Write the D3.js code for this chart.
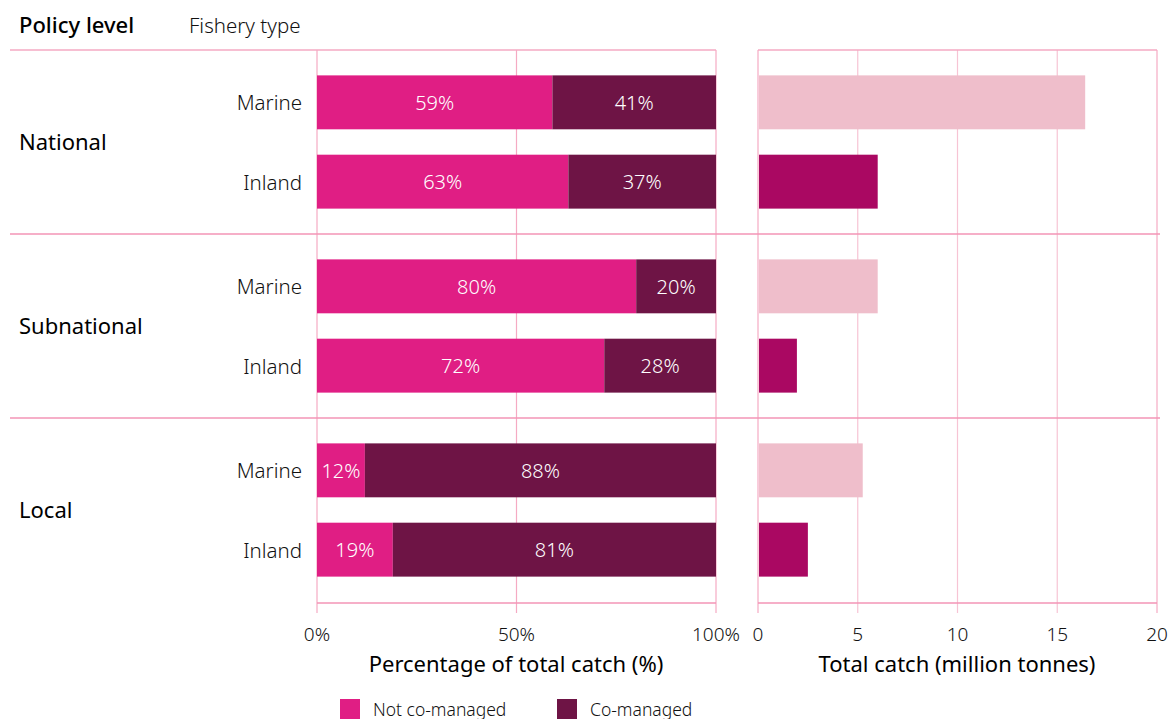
<!DOCTYPE html>
<html>
<head>
<meta charset="utf-8">
<script src="https://cdn.jsdelivr.net/npm/d3@7"></script>
<style>
  body { margin: 0; background: #fff; }
  svg { font-family: "Noto Sans", "Open Sans", sans-serif; }
</style>
</head>
<body>
<svg id="chart" width="1173" height="719"></svg>
<script>
// data
const levels = ["National", "Subnational", "Local"];
const fisheryTypes = ["Marine", "Inland"];
const notCoManaged = [59, 63, 80, 72, 12, 19];   // % of total catch, in level/type order
const coManaged = [41, 37, 20, 28, 88, 81];
const totalCatch = [16.4, 6.0, 6.0, 1.95, 5.25, 2.5]; // million tonnes
const pctTicks = [0, 50, 100];
const catchTicks = [0, 5, 10, 15, 20];

const colors = {
    not: "#e01e84",
    co: "#6e1445",
    marineTotal: "#efbecb",
    inlandTotal: "#aa0862",
    grid: "#f5aac3",
    sep: "#f395b6"
};

const rows = [];
levels.forEach((lv, i) => fisheryTypes.forEach((ft, j) => {
    const k = i * fisheryTypes.length + j;
    rows.push({level: lv, type: ft, not: notCoManaged[k], co: coManaged[k], total: totalCatch[k]});
}));

const svg = d3.select("#chart");

const yGroup = d3.scaleBand().domain(levels).range([50, 602]);
const yRow = d3.scaleBand().domain(fisheryTypes).range([0, yGroup.bandwidth()]).padding(0.32);
const yOf = d => yGroup(d.level) + yRow(d.type);

const xPct = d3.scaleLinear().domain([0, 100]).range([317, 716]);
const xCatch = d3.scaleLinear().domain([0, 20]).range([758, 1157]);

const plotTop = yGroup.range()[0], plotBottom = yGroup.range()[1] + 1;

// gridlines
svg.append("g").selectAll("line").data(pctTicks).join("line")
    .attr("x1", d => xPct(d)).attr("x2", d => xPct(d))
    .attr("y1", plotTop).attr("y2", plotBottom + 10)
    .attr("stroke", colors.grid).attr("stroke-width", 1.2);
svg.append("g").selectAll("line").data(catchTicks).join("line")
    .attr("x1", d => xCatch(d)).attr("x2", d => xCatch(d))
    .attr("y1", plotTop).attr("y2", plotBottom + 10)
    .attr("stroke", (d, i) => i === 0 || i === catchTicks.length - 1 ? colors.grid : "#f7c4d4")
    .attr("stroke-width", 1.2);

// top line
svg.append("line").attr("x1", 10).attr("x2", xPct(100)).attr("y1", plotTop).attr("y2", plotTop)
    .attr("stroke", colors.grid).attr("stroke-width", 1.5);
svg.append("line").attr("x1", xCatch(0)).attr("x2", xCatch(20)).attr("y1", plotTop).attr("y2", plotTop)
    .attr("stroke", colors.grid).attr("stroke-width", 1.5);

// group separators
svg.append("g").selectAll("line").data(levels.slice(1)).join("line")
    .attr("x1", 10).attr("x2", 1160)
    .attr("y1", d => yGroup(d)).attr("y2", d => yGroup(d))
    .attr("stroke", colors.sep).attr("stroke-width", 1.3);

// axis baselines
svg.append("line").attr("x1", xPct(0)).attr("x2", xPct(100)).attr("y1", plotBottom).attr("y2", plotBottom)
    .attr("stroke", colors.sep).attr("stroke-width", 1.3);
svg.append("line").attr("x1", xCatch(0)).attr("x2", xCatch(20)).attr("y1", plotBottom).attr("y2", plotBottom)
    .attr("stroke", colors.sep).attr("stroke-width", 1.3);

// stacked percentage bars
const bars = svg.append("g");
bars.selectAll("rect.not").data(rows).join("rect")
    .attr("class", "not")
    .attr("x", xPct(0)).attr("y", yOf)
    .attr("width", d => xPct(d.not) - xPct(0))
    .attr("height", yRow.bandwidth())
    .attr("fill", colors.not);
bars.selectAll("rect.co").data(rows).join("rect")
    .attr("class", "co")
    .attr("x", d => xPct(d.not)).attr("y", yOf)
    .attr("width", d => xPct(d.not + d.co) - xPct(d.not))
    .attr("height", yRow.bandwidth())
    .attr("fill", colors.co);

const labelStyle = sel => sel
    .attr("fill", "#fff").attr("font-size", 20).attr("font-weight", 300)
    .attr("text-anchor", "middle").attr("dominant-baseline", "central");
bars.selectAll("text.not").data(rows).join("text")
    .attr("class", "not")
    .attr("x", d => (xPct(0) + xPct(d.not)) / 2)
    .attr("y", d => yOf(d) + yRow.bandwidth() / 2)
    .call(labelStyle)
    .text(d => d.not + "%");
bars.selectAll("text.co").data(rows).join("text")
    .attr("class", "co")
    .attr("x", d => (xPct(d.not) + xPct(100)) / 2)
    .attr("y", d => yOf(d) + yRow.bandwidth() / 2)
    .call(labelStyle)
    .text(d => d.co + "%");

// total catch bars
svg.append("g").selectAll("rect").data(rows).join("rect")
    .attr("x", xCatch(0) + 1).attr("y", yOf)
    .attr("width", d => xCatch(d.total) - xCatch(0) - 1)
    .attr("height", yRow.bandwidth())
    .attr("fill", d => d.type === "Marine" ? colors.marineTotal : colors.inlandTotal);

// row labels
svg.append("g").selectAll("text").data(rows).join("text")
    .attr("x", 302).attr("y", d => yOf(d) + yRow.bandwidth() / 2)
    .attr("text-anchor", "end").attr("dominant-baseline", "central")
    .attr("font-size", 20.5).attr("font-weight", 300).attr("fill", "#111")
    .text(d => d.type);

// group labels
svg.append("g").selectAll("text").data(levels).join("text")
    .attr("x", 19).attr("y", d => yGroup(d) + yGroup.bandwidth() / 2 - 1)
    .attr("dominant-baseline", "central")
    .attr("font-size", 22).attr("fill", "#000")
    .text(d => d);

// headers
svg.append("text").attr("x", 19).attr("y", 33)
    .attr("font-size", 22).attr("font-weight", 500).attr("fill", "#000")
    .text("Policy level");
svg.append("text").attr("x", 189).attr("y", 33)
    .attr("font-size", 20.5).attr("font-weight", 300).attr("fill", "#111")
    .text("Fishery type");

// tick labels
svg.append("g").selectAll("text").data(pctTicks).join("text")
    .attr("x", d => xPct(d)).attr("y", 641)
    .attr("text-anchor", "middle").attr("font-size", 19).attr("font-weight", 300).attr("fill", "#111")
    .text(d => d + "%");
svg.append("g").selectAll("text").data(catchTicks).join("text")
    .attr("x", d => xCatch(d)).attr("y", 641)
    .attr("text-anchor", "middle").attr("font-size", 19).attr("font-weight", 300).attr("fill", "#111")
    .text(d => d);

// axis titles
svg.append("text").attr("x", 516).attr("y", 672)
    .attr("text-anchor", "middle").attr("font-size", 22).attr("fill", "#000")
    .text("Percentage of total catch (%)");
svg.append("text").attr("x", 957).attr("y", 672)
    .attr("text-anchor", "middle").attr("font-size", 22).attr("fill", "#000")
    .text("Total catch (million tonnes)");

// legend
const legendItems = [
    {label: "Not co-managed", color: colors.not, x: 340},
    {label: "Co-managed", color: colors.co, x: 557}
];
const legend = svg.append("g").selectAll("g").data(legendItems).join("g")
    .attr("transform", d => `translate(${d.x}, 699)`);
legend.append("rect").attr("width", 20).attr("height", 20).attr("fill", d => d.color);
legend.append("text").attr("x", 33).attr("y", 17)
    .attr("font-size", 17.5).attr("font-weight", 300).attr("fill", "#111")
    .text(d => d.label);
</script>
</body>
</html>
